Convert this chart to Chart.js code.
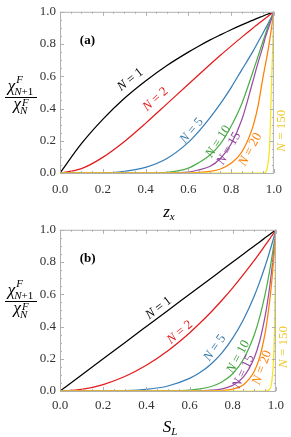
<!DOCTYPE html>
<html>
<head>
<meta charset="utf-8">
<script src="https://cdn.jsdelivr.net/npm/chart.js@4.4.1/dist/chart.umd.min.js"></script>
<style>
  html, body { margin: 0; padding: 0; background: #fff; }
  #wrapA { position: absolute; left: 0; top: 0; width: 291px; height: 222px; }
  #wrapB { position: absolute; left: 0; top: 218px; width: 291px; height: 219px; }
</style>
</head>
<body>
<div id="wrapA"><canvas id="chartA"></canvas></div>
<div id="wrapB"><canvas id="chartB"></canvas></div>
<script>
// sample positions on the horizontal axis (same for both panels)
const xs = [0, 0.1, 0.2, 0.3, 0.4, 0.5, 0.6, 0.65, 0.7, 0.75, 0.8, 0.85, 0.9, 0.925, 0.95, 0.96, 0.97, 0.98, 0.99, 0.995, 1];
const seriesNames = ["N = 1", "N = 2", "N = 5", "N = 10", "N = 15", "N = 20", "N = 150"];
const tickValues = [0, 0.2, 0.4, 0.6, 0.8, 1.0];

// panel (a): ratio against z_x
const aN1 = [0, 0.182, 0.333, 0.462, 0.571, 0.667, 0.75, 0.788, 0.824, 0.857, 0.889, 0.919, 0.947, 0.961, 0.974, 0.98, 0.985, 0.99, 0.995, 0.997, 1];
const aN2 = [0, 0.027, 0.097, 0.194, 0.308, 0.429, 0.551, 0.611, 0.671, 0.73, 0.787, 0.843, 0.897, 0.923, 0.949, 0.96, 0.97, 0.98, 0.99, 0.995, 1];
const aN5 = [0, 0, 0, 0.01, 0.035, 0.09, 0.19, 0.26, 0.34, 0.43, 0.53, 0.64, 0.75, 0.81, 0.87, 0.895, 0.92, 0.945, 0.97, 0.985, 1];
const aN10 = [0, 0, 0, 0, 0, 0.004, 0.03, 0.065, 0.11, 0.18, 0.29, 0.43, 0.62, 0.72, 0.82, 0.86, 0.9, 0.935, 0.97, 0.985, 1];
const aN15 = [0, 0, 0, 0, 0, 0, 0.005, 0.02, 0.04, 0.09, 0.18, 0.33, 0.56, 0.68, 0.79, 0.84, 0.88, 0.92, 0.96, 0.98, 1];
const aN20 = [0, 0, 0, 0, 0, 0, 0, 0.004, 0.01, 0.025, 0.06, 0.13, 0.28, 0.41, 0.6, 0.67, 0.74, 0.82, 0.91, 0.955, 1];
const aN150 = [0, 0, 0, 0, 0, 0, 0, 0, 0, 0, 0, 0, 0, 0, 0, 0.003, 0.04, 0.17, 0.6, 0.8, 1];

// panel (b): ratio against S_L
const bN1 = [0, 0.1, 0.2, 0.3, 0.4, 0.5, 0.6, 0.65, 0.7, 0.75, 0.8, 0.85, 0.9, 0.925, 0.95, 0.96, 0.97, 0.98, 0.99, 0.995, 1];
const bN2 = [0, 0.01, 0.04, 0.09, 0.16, 0.25, 0.36, 0.423, 0.49, 0.563, 0.64, 0.723, 0.81, 0.856, 0.903, 0.922, 0.941, 0.96, 0.98, 0.99, 1];
const bN5 = [0, 0, 0, 0.002, 0.01, 0.031, 0.078, 0.116, 0.168, 0.237, 0.328, 0.444, 0.59, 0.677, 0.774, 0.815, 0.859, 0.904, 0.951, 0.975, 1];
const bN10 = [0, 0, 0, 0, 0, 0.001, 0.006, 0.013, 0.028, 0.056, 0.107, 0.197, 0.349, 0.458, 0.599, 0.665, 0.737, 0.817, 0.904, 0.951, 1];
const bN15 = [0, 0, 0, 0, 0, 0, 0, 0.002, 0.005, 0.013, 0.035, 0.087, 0.206, 0.31, 0.463, 0.542, 0.633, 0.739, 0.86, 0.928, 1];
const bN20 = [0, 0, 0, 0, 0, 0, 0, 0, 0.001, 0.003, 0.012, 0.039, 0.122, 0.21, 0.358, 0.442, 0.544, 0.668, 0.818, 0.905, 1];
const bN150 = [0, 0, 0, 0, 0, 0, 0, 0, 0, 0, 0, 0, 0, 0, 0, 0.002, 0.01, 0.048, 0.22, 0.47, 1];

const colors = ["#000000", "#e41a1c", "#377eb8", "#4daf4a", "#984ea3", "#ff7f00", "#f7e51d"];
const labelColors = ["#000000", "#e41a1c", "#3a7ba8", "#3f9e3c", "#8e3f9a", "#ff7f00", "#f0c828"];

// where the curve names sit (data units) and their slant
const labelsA = [
  { x: 0.329, y: 0.579, angle: -38 },
  { x: 0.447, y: 0.457, angle: -42 },
  { x: 0.616, y: 0.262, angle: -50 },
  { x: 0.740, y: 0.195, angle: -57 },
  { x: 0.790, y: 0.152, angle: -60 },
  { x: 0.890, y: 0.146, angle: -62 },
  { x: 1.037, y: 0.262, angle: -90 }
];
const labelsB = [
  { x: 0.457, y: 0.515, angle: -37 },
  { x: 0.555, y: 0.364, angle: -40 },
  { x: 0.717, y: 0.267, angle: -55 },
  { x: 0.826, y: 0.212, angle: -62 },
  { x: 0.849, y: 0.121, angle: -65 },
  { x: 0.936, y: 0.145, angle: -70 },
  { x: 1.037, y: 0.273, angle: -90 }
];

const serif = "'Liberation Serif', 'Times New Roman', 'DejaVu Serif', serif";

function drawCurveLabel(ctx, text, px, py, angle, color) {
  const head = text.slice(0, 1), rest = text.slice(1);
  ctx.save();
  ctx.translate(px, py);
  ctx.rotate(angle * Math.PI / 180);
  ctx.fillStyle = color;
  ctx.textBaseline = "middle";
  ctx.font = "italic 13px " + serif;
  const w1 = ctx.measureText(head).width;
  ctx.font = "13px " + serif;
  const w2 = ctx.measureText(rest).width;
  const x0 = -(w1 + w2) / 2;
  ctx.font = "italic 13px " + serif;
  ctx.fillText(head, x0, 0);
  ctx.font = "13px " + serif;
  ctx.fillText(rest, x0 + w1, 0);
  ctx.restore();
}

// chi with a superscript F and a subscript (italic N plus upright tail)
function chiWidth(ctx, subTail) {
  ctx.font = "italic 17px " + serif;
  const wc = ctx.measureText("χ").width;
  ctx.font = "italic 11px " + serif;
  const wn = ctx.measureText("N").width;
  const wf = ctx.measureText("F").width;
  ctx.font = "11px " + serif;
  const wt = ctx.measureText(subTail).width;
  return { wc, total: wc + Math.max(wf + 1, wn + wt) };
}

function drawChi(ctx, x, base, supBase, subBase, subTail) {
  ctx.font = "italic 17px " + serif;
  ctx.fillText("χ", x, base);
  const wc = ctx.measureText("χ").width;
  ctx.font = "italic 11px " + serif;
  ctx.fillText("F", x + wc + 1, supBase);
  ctx.fillText("N", x + wc - 1, subBase);
  const wn = ctx.measureText("N").width;
  ctx.font = "11px " + serif;
  ctx.fillText(subTail, x + wc - 1 + wn, subBase);
}

const decor = {
  id: "decor",
  afterDraw(chart, args, opts) {
    const ctx = chart.ctx;
    const area = chart.chartArea;
    const sx = chart.scales.x, sy = chart.scales.y;
    ctx.save();

    // frame and inward ticks
    ctx.strokeStyle = "#b0b0b0";
    ctx.lineWidth = 1;
    ctx.strokeRect(area.left + 0.5, area.top + 0.5, area.right - area.left - 1, area.bottom - area.top);
    ctx.beginPath();
    for (let i = 0; i <= 20; i++) {
      const len = i % 4 === 0 ? 4 : 2;
      const px = Math.round(sx.getPixelForValue(i / 20)) + 0.5;
      ctx.moveTo(px, area.bottom); ctx.lineTo(px, area.bottom - len);
      ctx.moveTo(px, area.top); ctx.lineTo(px, area.top + len);
      const py = Math.round(sy.getPixelForValue(i / 20)) + 0.5;
      ctx.moveTo(area.left, py); ctx.lineTo(area.left + len, py);
      ctx.moveTo(area.right, py); ctx.lineTo(area.right - len, py);
    }
    ctx.stroke();

    // curve names
    opts.labels.forEach((l, i) => {
      drawCurveLabel(ctx, seriesNames[i], sx.getPixelForValue(l.x), sy.getPixelForValue(l.y), l.angle, labelColors[i]);
    });

    // panel tag
    ctx.fillStyle = "#000";
    ctx.font = "bold 13px " + serif;
    ctx.textAlign = "center";
    ctx.textBaseline = "middle";
    ctx.fillText(opts.tag, sx.getPixelForValue(0.128), sy.getPixelForValue(0.823));

    // y title: fraction
    ctx.textAlign = "left";
    ctx.textBaseline = "alphabetic";
    const cx = 21, bar = opts.barY;
    const num = chiWidth(ctx, "+1");
    drawChi(ctx, cx - num.total / 2, bar - 6, bar - 14, bar - 2, "+1");
    const den = chiWidth(ctx, "");
    drawChi(ctx, cx - den.total / 2, bar + 12, bar + 9, bar + 17, "");
    ctx.fillRect(5, bar, 32, 1);

    // x title
    ctx.font = "italic 17px " + serif;
    const wm = ctx.measureText(opts.title).width;
    ctx.font = "italic 11px " + serif;
    const ws = ctx.measureText(opts.sub).width;
    const tx = (area.left + area.right) / 2 + 2 - (wm + ws) / 2;
    ctx.font = "italic 17px " + serif;
    ctx.fillText(opts.title, tx, opts.titleY);
    ctx.font = "italic 11px " + serif;
    ctx.fillText(opts.sub, tx + wm, opts.titleY + 3);

    ctx.restore();
  }
};

function makeChart(id, series, labels, axisHeight, padTop, opts) {
  const datasets = series.map((ys, i) => ({
    label: seriesNames[i],
    data: xs.map((x, k) => ({ x: x, y: ys[k] })),
    borderColor: colors[i],
    borderWidth: 1.25,
    pointRadius: 0,
    fill: false,
    cubicInterpolationMode: "monotone",
    order: series.length - i
  }));
  const tickFont = { family: serif, size: 13 };
  return new Chart(document.getElementById(id), {
    type: "line",
    data: { datasets },
    plugins: [decor],
    options: {
      responsive: true,
      maintainAspectRatio: false,
      devicePixelRatio: 1,
      animation: false,
      layout: { padding: { top: padTop, right: 12, left: 0, bottom: 0 } },
      plugins: {
        legend: { display: false },
        tooltip: { enabled: false },
        decor: Object.assign({ labels }, opts)
      },
      scales: {
        x: {
          type: "linear", min: 0, max: 1,
          afterBuildTicks: (s) => { s.ticks = tickValues.map(v => ({ value: v })); },
          afterFit: (s) => { s.height = axisHeight; },
          grid: { display: false, drawTicks: false },
          border: { display: false },
          ticks: { font: tickFont, color: "#333", padding: opts.xPad, maxRotation: 0, autoSkip: false, callback: v => v.toFixed(1) }
        },
        y: {
          type: "linear", min: 0, max: 1,
          afterBuildTicks: (s) => { s.ticks = tickValues.map(v => ({ value: v })); },
          afterFit: (s) => { s.width = 60; },
          grid: { display: false, drawTicks: false },
          border: { display: false },
          ticks: { font: tickFont, color: "#333", padding: 4, autoSkip: false, callback: v => v.toFixed(1) }
        }
      }
    }
  });
}

makeChart("chartA", [aN1, aN2, aN5, aN10, aN15, aN20, aN150], labelsA, 49, 9,
  { tag: "(a)", title: "z", sub: "x", barY: 97, titleY: 217, xPad: 9 });
makeChart("chartB", [bN1, bN2, bN5, bN10, bN15, bN20, bN150], labelsB, 46, 8,
  { tag: "(b)", title: "S", sub: "L", barY: 83, titleY: 214, xPad: 7 });
</script>
</body>
</html>
